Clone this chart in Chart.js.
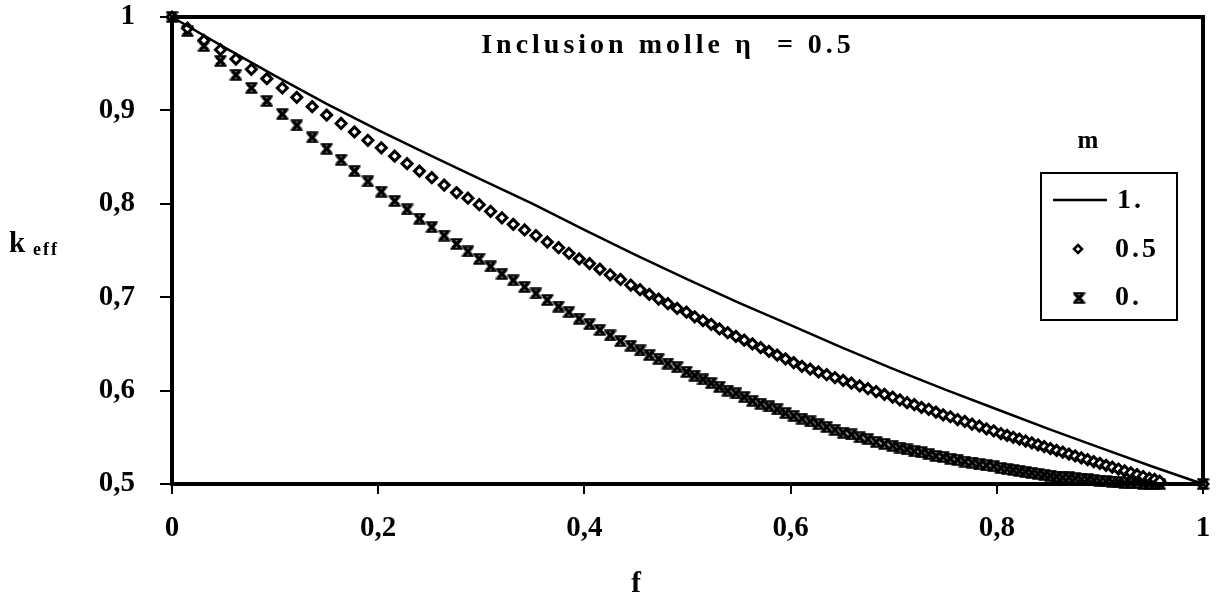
<!DOCTYPE html>
<html>
<head>
<meta charset="utf-8">
<script src="https://cdn.jsdelivr.net/npm/chart.js@4/dist/chart.umd.min.js"></script>
<style>
  html, body { margin: 0; padding: 0; background: #fff; }
  #chart { display: block; }
</style>
</head>
<body>
<canvas id="chart" width="1217" height="608"></canvas>
<script>
// volume fraction f (shared by the two marker series)
const fPts = [
  0, 0.015, 0.031, 0.047, 0.062, 0.077, 0.092, 0.107, 0.121, 0.136, 0.150, 0.164, 0.177, 0.190, 0.203, 0.216, 0.228, 0.240,
  0.252, 0.264, 0.276, 0.287, 0.298, 0.309, 0.320, 0.331, 0.342, 0.353, 0.364, 0.375, 0.385, 0.395, 0.405, 0.415, 0.425, 0.435, 0.445,
  0.454, 0.463, 0.472, 0.481, 0.490, 0.499, 0.507, 0.515, 0.523, 0.531, 0.539, 0.547, 0.555, 0.563, 0.571, 0.579, 0.587, 0.595,
  0.603, 0.611, 0.619, 0.627, 0.635, 0.643, 0.651, 0.659, 0.667, 0.675, 0.683, 0.691, 0.699, 0.706,
  0.713, 0.720, 0.727, 0.734, 0.741, 0.748, 0.755, 0.762, 0.769, 0.776, 0.783, 0.790, 0.797, 0.804, 0.810, 0.816, 0.822, 0.828,
  0.834, 0.840, 0.846, 0.852, 0.858, 0.864, 0.870, 0.876, 0.882, 0.888, 0.894, 0.900, 0.906, 0.912, 0.918, 0.924, 0.930, 0.936,
  0.942, 0.948, 0.953, 0.958, 1
];

// m = 0.5 (diamonds)
const kHalf = [
  1.000, 0.988, 0.975, 0.965, 0.955, 0.944, 0.934, 0.924, 0.914, 0.904, 0.895, 0.886, 0.877, 0.868, 0.860, 0.851, 0.843, 0.835,
  0.828, 0.820, 0.812, 0.806, 0.799, 0.792, 0.785, 0.778, 0.772, 0.766, 0.759, 0.753, 0.747, 0.741, 0.736, 0.730, 0.724, 0.719, 0.713,
  0.708, 0.703, 0.698, 0.693, 0.688, 0.684, 0.679, 0.675, 0.671, 0.666, 0.662, 0.658, 0.654, 0.650, 0.646, 0.642, 0.638, 0.634,
  0.630, 0.626, 0.623, 0.620, 0.617, 0.614, 0.611, 0.608, 0.605, 0.602, 0.599, 0.596, 0.593, 0.590,
  0.587, 0.585, 0.582, 0.580, 0.577, 0.574, 0.572, 0.569, 0.567, 0.564, 0.562, 0.559, 0.557, 0.554, 0.552, 0.550, 0.548, 0.546,
  0.544, 0.542, 0.540, 0.538, 0.536, 0.534, 0.532, 0.530, 0.528, 0.526, 0.524, 0.522, 0.520, 0.518, 0.516, 0.514, 0.512, 0.510,
  0.508, 0.506, 0.505, 0.503, 0.500
];

// m = 0 (crosses)
const kZero = [
  1.000, 0.985, 0.969, 0.953, 0.938, 0.924, 0.910, 0.896, 0.884, 0.871, 0.859, 0.847, 0.835, 0.824, 0.813, 0.803, 0.794, 0.784,
  0.775, 0.766, 0.757, 0.749, 0.741, 0.733, 0.725, 0.718, 0.711, 0.704, 0.697, 0.690, 0.684, 0.677, 0.671, 0.665, 0.659, 0.653, 0.648,
  0.643, 0.638, 0.634, 0.629, 0.625, 0.620, 0.616, 0.612, 0.608, 0.604, 0.600, 0.597, 0.593, 0.589, 0.586, 0.583, 0.580, 0.576,
  0.573, 0.570, 0.567, 0.564, 0.561, 0.558, 0.555, 0.553, 0.550, 0.548, 0.545, 0.543, 0.541, 0.539,
  0.537, 0.535, 0.534, 0.532, 0.530, 0.529, 0.527, 0.526, 0.524, 0.523, 0.521, 0.520, 0.519, 0.517, 0.516, 0.515, 0.514, 0.513,
  0.512, 0.511, 0.510, 0.509, 0.508, 0.507, 0.507, 0.506, 0.505, 0.505, 0.504, 0.503, 0.503, 0.502, 0.502, 0.501, 0.501, 0.501,
  0.500, 0.500, 0.500, 0.500, 0.500
];

// m = 1 (solid line)
const fLine = [0, 0.05, 0.1, 0.15, 0.2, 0.25, 0.3, 0.35, 0.4, 0.45, 0.5, 0.55, 0.6, 0.65, 0.7, 0.75, 0.8, 0.85, 0.9, 0.95, 1];
const kOne = [1.000, 0.968, 0.937, 0.907, 0.879, 0.852, 0.826, 0.800, 0.772, 0.745, 0.719, 0.694, 0.670, 0.646, 0.623, 0.601, 0.580, 0.559, 0.539, 0.519, 0.500];

const legendLabels = ['1.', '0.5', '0.'];
const xTicks = [0, 0.2, 0.4, 0.6, 0.8, 1];
const yTicks = [0.5, 0.6, 0.7, 0.8, 0.9, 1];

const SERIF = '"Liberation Serif", "Times New Roman", serif';

function fmtComma(v) {
  const r = Math.round(v * 10) / 10;
  return String(r).replace('.', ',');
}

// bold "x" marker with flat ends, like the scanned symbol
function makeCross() {
  const c = document.createElement('canvas');
  c.width = 13; c.height = 12;
  const g = c.getContext('2d');
  g.strokeStyle = '#000';
  g.lineWidth = 3.4;
  g.beginPath();
  g.moveTo(2.5, 2); g.lineTo(10.5, 10);
  g.moveTo(10.5, 2); g.lineTo(2.5, 10);
  g.stroke();
  g.lineWidth = 2.2;
  g.beginPath();
  g.moveTo(0.5, 1.3); g.lineTo(12.5, 1.3);
  g.moveTo(0.5, 10.7); g.lineTo(12.5, 10.7);
  g.stroke();
  return c;
}
const crossImg = makeCross();

const toXY = (xs, ys) => xs.map((x, i) => ({ x: x, y: ys[i] }));

const annotations = {
  id: 'annotations',
  afterDraw(chart) {
    const ctx = chart.ctx;
    const a = chart.chartArea;
    ctx.save();
    // frame
    ctx.strokeStyle = '#000';
    ctx.lineWidth = 4;
    ctx.strokeRect(a.left, a.top, a.right - a.left, a.bottom - a.top);

    ctx.fillStyle = '#000';
    ctx.textBaseline = 'middle';

    // title in the plot
    ctx.font = 'bold 28px ' + SERIF;
    ctx.letterSpacing = '4px';
    ctx.textAlign = 'center';
    ctx.fillText('Inclusion molle \u03B7  = 0.5', 668, 46);

    // legend heading
    ctx.font = 'bold 25px ' + SERIF;
    ctx.letterSpacing = '0px';
    ctx.fillText('m', 1088, 142);

    // legend box
    ctx.lineWidth = 2;
    ctx.strokeRect(1041, 173, 136, 147);
    ctx.lineWidth = 2.5;
    ctx.beginPath();
    ctx.moveTo(1053, 200); ctx.lineTo(1107, 200);
    ctx.stroke();
    ctx.lineWidth = 2.5;
    ctx.fillStyle = '#fff';
    ctx.beginPath();
    ctx.moveTo(1078, 245); ctx.lineTo(1082, 249); ctx.lineTo(1078, 253); ctx.lineTo(1074, 249);
    ctx.closePath();
    ctx.fill(); ctx.stroke();
    ctx.drawImage(crossImg, 1079 - 6.5, 298 - 6);
    ctx.fillStyle = '#000';
    ctx.textAlign = 'left';
    ctx.font = 'bold 28px ' + SERIF;
    ctx.letterSpacing = '3px';
    ctx.fillText(legendLabels[0], 1117, 201);
    ctx.fillText(legendLabels[1], 1115, 250);
    ctx.fillText(legendLabels[2], 1115, 298);

    // axis titles
    ctx.letterSpacing = '0px';
    ctx.font = 'bold 29px ' + SERIF;
    ctx.fillText('k', 9, 245);
    ctx.font = 'bold 18px ' + SERIF;
    ctx.letterSpacing = '2px';
    ctx.fillText('eff', 33, 250);
    ctx.letterSpacing = '0px';
    ctx.font = 'bold 29px ' + SERIF;
    ctx.textAlign = 'center';
    ctx.fillText('f', 636, 585);
    ctx.restore();
  }
};

const tickFont = { family: SERIF, size: 29, weight: 'bold' };

new Chart(document.getElementById('chart').getContext('2d'), {
  type: 'scatter',
  data: {
    datasets: [
      {
        label: legendLabels[0],
        data: toXY(fLine, kOne),
        showLine: true,
        borderColor: '#000',
        borderWidth: 2.5,
        pointRadius: 0,
        clip: false,
      },
      {
        label: legendLabels[1],
        data: toXY(fPts, kHalf),
        pointStyle: 'rectRot',
        pointRadius: 5,
        borderWidth: 3,
        borderColor: '#000',
        backgroundColor: '#fff',
        clip: false,
      },
      {
        label: legendLabels[2],
        data: toXY(fPts, kZero),
        pointStyle: crossImg,
        pointRadius: 6,
        clip: false,
      },
    ]
  },
  options: {
    responsive: false,
    animation: false,
    devicePixelRatio: 1,
    layout: { padding: { left: 0, right: 14, top: 17, bottom: 0 } },
    plugins: { legend: { display: false }, tooltip: { enabled: false } },
    scales: {
      x: {
        type: 'linear', min: 0, max: 1,
        afterBuildTicks: s => { s.ticks = xTicks.map(v => ({ value: v })); },
        afterFit: s => { s.height = 124; s.paddingLeft = 0; s.paddingRight = 0; },
        ticks: { callback: fmtComma, color: '#000', font: tickFont, padding: 17, maxRotation: 0 },
        grid: { drawOnChartArea: false, drawTicks: true, tickLength: 10, color: '#000', lineWidth: 2 },
        border: { display: true, color: '#000', width: 4 },
      },
      y: {
        type: 'linear', min: 0.5, max: 1,
        afterBuildTicks: s => { s.ticks = yTicks.map(v => ({ value: v })); },
        afterFit: s => { s.width = 172; s.paddingTop = 0; s.paddingBottom = 0; },
        ticks: { callback: fmtComma, color: '#000', font: tickFont, padding: 25 },
        grid: { drawOnChartArea: false, drawTicks: true, tickLength: 12, color: '#000', lineWidth: 2 },
        border: { display: true, color: '#000', width: 4 },
      }
    }
  },
  plugins: [annotations]
});
</script>
</body>
</html>
